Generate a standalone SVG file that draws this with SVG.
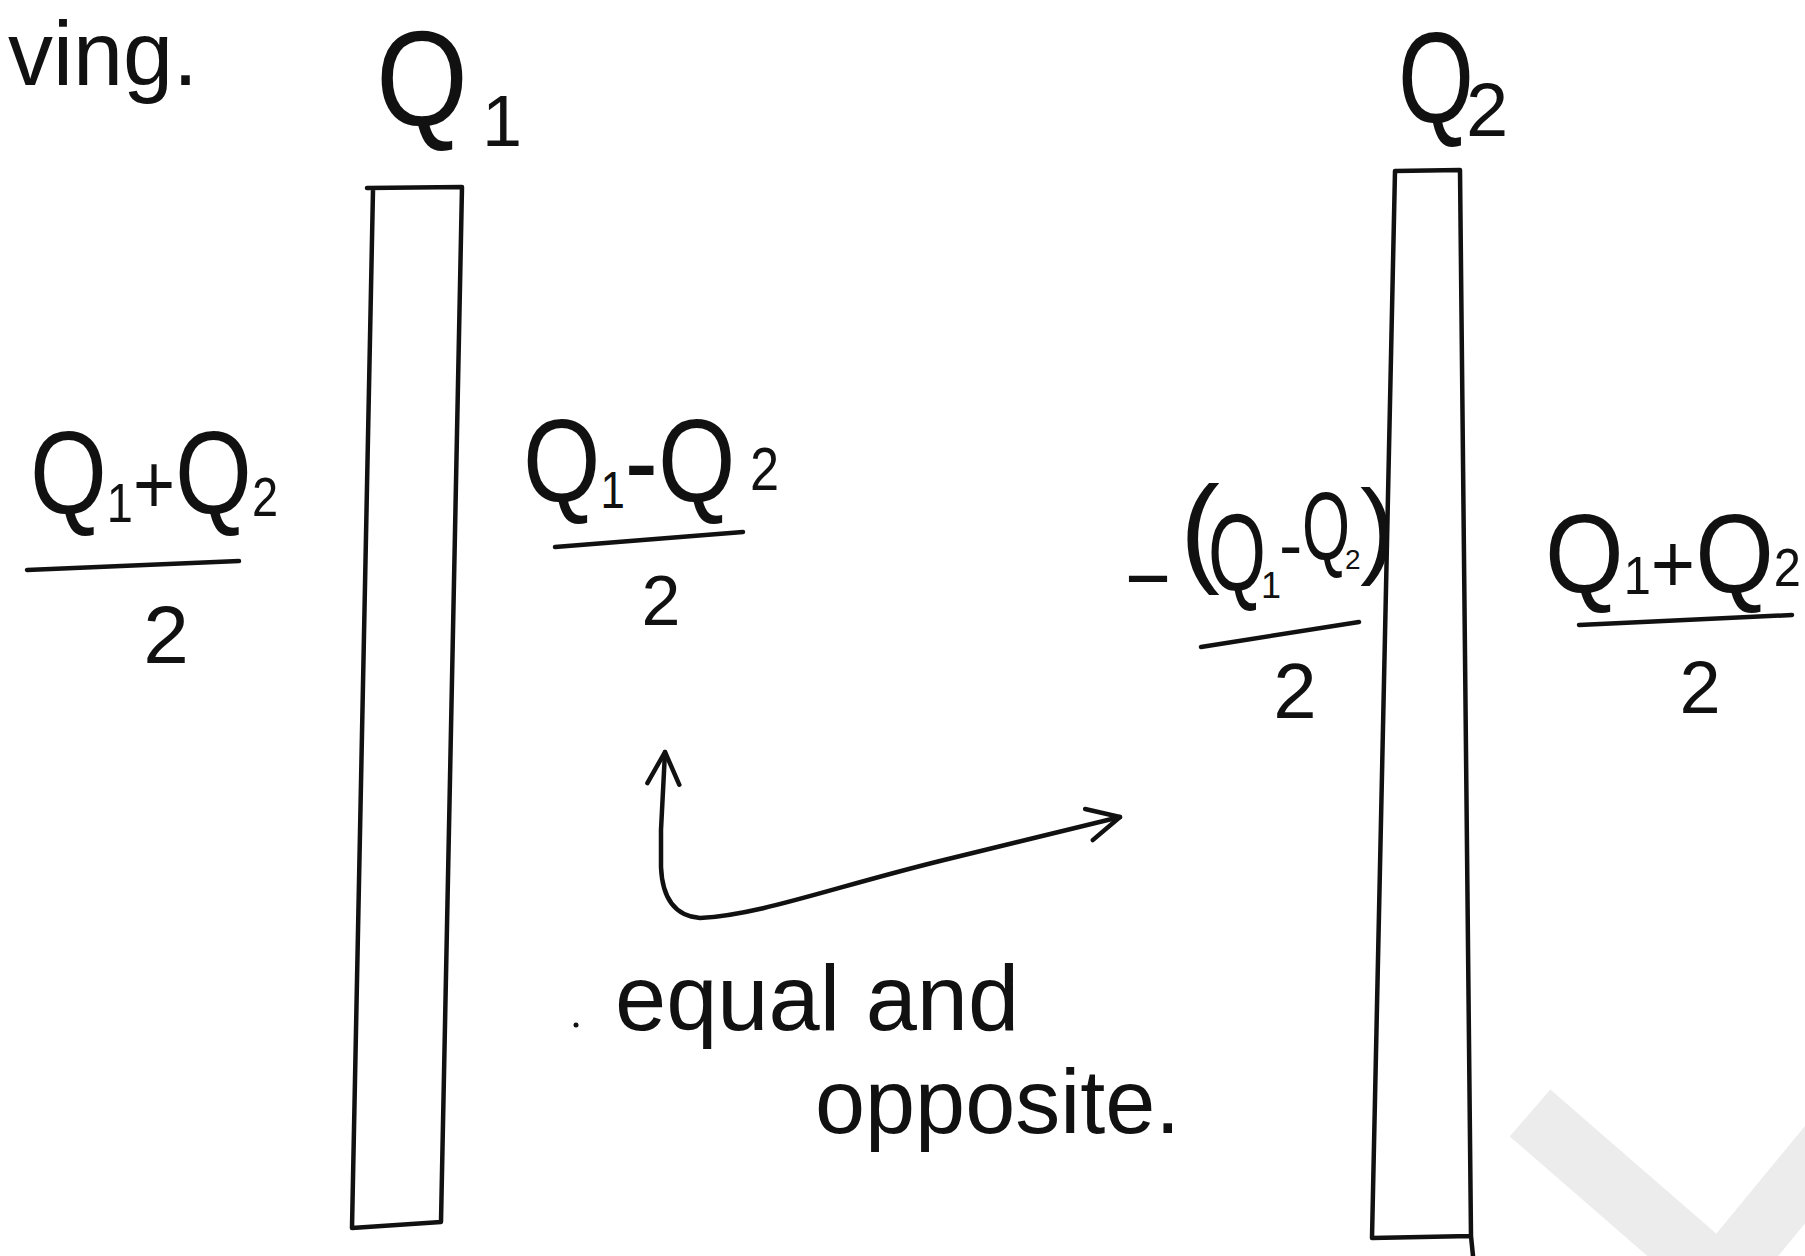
<svg xmlns="http://www.w3.org/2000/svg" width="1805" height="1256" viewBox="0 0 1805 1256">
<style>
.ink{fill:none;stroke:#111;stroke-width:4.5;stroke-linecap:round;stroke-linejoin:round}
.hw{font-family:"Liberation Sans",Arial,sans-serif;fill:#111}
.wm{fill:none;stroke:#ececec;stroke-width:62;stroke-linejoin:miter}
</style>
<defs>
<marker id="open" viewBox="0 0 40 40" refX="36" refY="20" markerWidth="40" markerHeight="40" markerUnits="userSpaceOnUse" orient="auto-start-reverse">
<path d="M4,4 L36,20 L4,36" fill="none" stroke="#111" stroke-width="4.5" stroke-linecap="round" stroke-linejoin="round"/>
</marker>
</defs>
<rect width="1805" height="1256" fill="#fff"/>
<polyline class="wm" points="1530,1113 1720,1278 1850,1120"/>

<g id="header">
<text class="hw" x="8" y="85" font-size="90">ving.</text>
</g>

<g id="label-q1">
<text class="hw" x="376" y="125" font-size="135" textLength="92" lengthAdjust="spacingAndGlyphs">Q</text>
<text class="hw" x="482" y="146" font-size="72">1</text>
</g>
<g id="label-q2">
<text class="hw" x="1398" y="122" font-size="130" textLength="76" lengthAdjust="spacingAndGlyphs">Q</text>
<text class="hw" x="1466" y="136" font-size="76">2</text>
</g>

<g id="plate1">
<path class="ink" d="M367,188 L462,187 L441,1222 L352,1228 L373,190"/>
</g>
<g id="plate2">
<path class="ink" d="M1395,171 L1460,170 L1471,1236 L1372,1238 Z M1471,1236 L1473,1256"/>
</g>

<g id="charge-left">
<text class="hw" x="30" y="514" font-size="118" textLength="248" lengthAdjust="spacingAndGlyphs">Q<tspan font-size="56" dy="8">1</tspan><tspan font-size="86" dy="-8">+</tspan>Q<tspan font-size="56" dy="2">2</tspan></text>
<path class="ink" d="M27,570 L239,561"/>
<text class="hw" x="166" y="663" font-size="82" text-anchor="middle">2</text>
</g>

<g id="charge-p1-right">
<text class="hw" x="523" y="502" font-size="118" textLength="256" lengthAdjust="spacingAndGlyphs">Q<tspan font-size="52" dy="6">1</tspan><tspan dy="-6">-Q</tspan><tspan font-size="62" dy="-12"> 2</tspan></text>
<path class="ink" d="M555,547 L743,532"/>
<text class="hw" x="661" y="625" font-size="70" text-anchor="middle">2</text>
</g>

<g id="charge-p2-left">
<text class="hw" x="1122" y="600" font-size="80" textLength="52" lengthAdjust="spacingAndGlyphs">-</text>
<text class="hw" x="1180" y="570" font-size="120">(</text>
<text class="hw" x="1208" y="590" font-size="110" textLength="58" lengthAdjust="spacingAndGlyphs">Q</text>
<text class="hw" x="1261" y="598" font-size="36">1</text>
<text class="hw" x="1279" y="569" font-size="70">-</text>
<text class="hw" x="1302" y="560" font-size="96" textLength="48" lengthAdjust="spacingAndGlyphs">Q</text>
<text class="hw" x="1345" y="569" font-size="28">2</text>
<text class="hw" x="1360" y="564" font-size="106">)</text>
<path class="ink" d="M1201,647 L1359,622"/>
<text class="hw" x="1295" y="718" font-size="78" text-anchor="middle">2</text>
</g>

<g id="charge-right">
<text class="hw" x="1545" y="592" font-size="112" textLength="256" lengthAdjust="spacingAndGlyphs">Q<tspan font-size="54" dy="2">1</tspan><tspan font-size="84" dy="-2">+</tspan>Q<tspan font-size="54" dy="-6">2</tspan></text>
<path class="ink" d="M1579,625 L1792,615"/>
<text class="hw" x="1700" y="713" font-size="74" text-anchor="middle">2</text>
</g>

<g id="connectors">
<path class="ink" marker-start="url(#open)" marker-end="url(#open)" d="M665,752 L661,830 L661,867 Q663,915 700,918 C760,915 830,888 944,860 L1120,817"/>
</g>

<g id="note">
<circle cx="576" cy="1025" r="2.5" fill="#111"/>
<text class="hw" x="615" y="1030" font-size="92">equal and</text>
<text class="hw" x="815" y="1133" font-size="90">opposite.</text>
</g>
</svg>
